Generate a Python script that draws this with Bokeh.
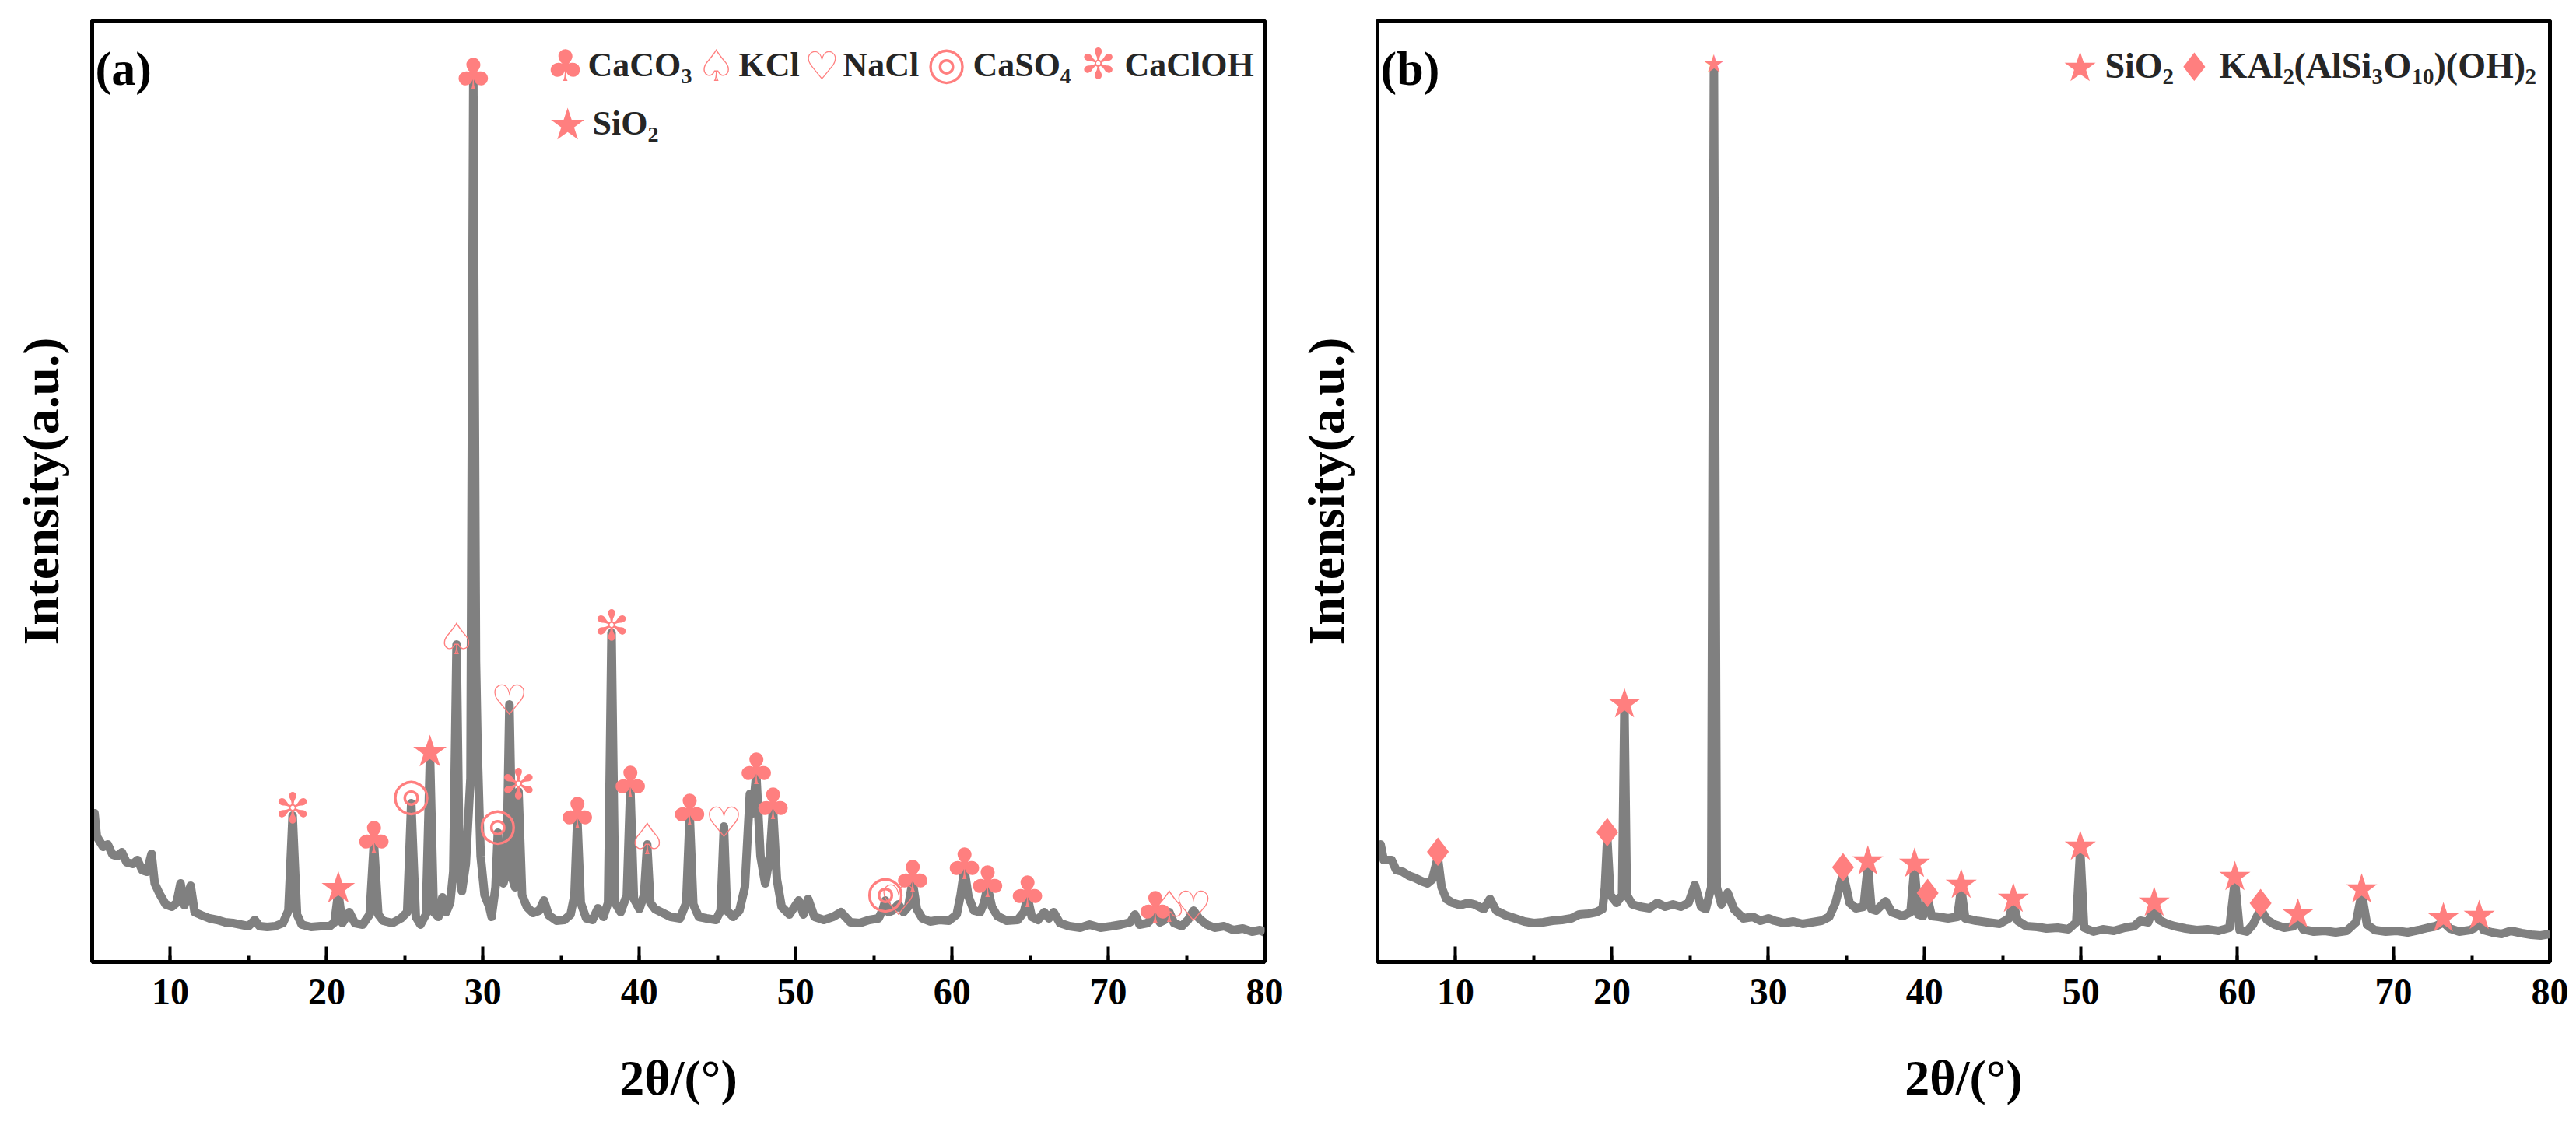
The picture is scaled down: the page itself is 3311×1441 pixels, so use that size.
from bokeh.plotting import figure
from bokeh.models import Range1d, SingleIntervalTicker, FixedTicker, Label
from bokeh.layouts import row
from bokeh.embed import file_html
from bokeh.resources import INLINE
from bokeh.core.properties import value

# ---------------- data ----------------
# panel (a): (2theta, intensity a.u.)
pattern_a = [
    (5.0, 176), (5.15, 191), (5.3, 161), (5.7, 148), (6.0, 151), (6.3, 138), (6.6, 136), (6.9, 141),
    (7.2, 128), (7.6, 126), (7.9, 131), (8.2, 118), (8.5, 116), (8.8, 139), (9.0, 101), (9.3, 88),
    (9.7, 74), (10.1, 71), (10.4, 76), (10.65, 101), (10.9, 73), (11.3, 98), (11.55, 64), (12.0, 60),
    (12.5, 56), (13.0, 54), (13.5, 51), (14.0, 50), (14.5, 48), (15.0, 46), (15.4, 54), (15.7, 46),
    (16.2, 45), (16.7, 46), (17.2, 50), (17.55, 66), (17.82, 188), (18.1, 61), (18.4, 48), (19.0, 45),
    (19.6, 46), (20.2, 46), (20.5, 51), (20.74, 89), (21.0, 50), (21.45, 64), (21.8, 50), (22.3, 48),
    (22.75, 61), (23.02, 153), (23.3, 61), (23.6, 53), (24.2, 50), (24.75, 56), (25.15, 64), (25.41, 204),
    (25.7, 58), (26.0, 48), (26.35, 61), (26.61, 264), (26.85, 64), (27.15, 58), (27.4, 83), (27.65, 64),
    (27.9, 76), (28.1, 116), (28.31, 408), (28.5, 116), (28.65, 91), (28.9, 126), (29.2, 236), (29.38, 1134),
    (29.55, 386), (29.65, 276), (29.85, 136), (30.1, 86), (30.4, 71), (30.55, 58), (30.8, 96), (30.95, 166),
    (31.15, 111), (31.3, 101), (31.5, 116), (31.69, 331), (31.9, 106), (32.05, 96), (32.27, 219), (32.5, 86),
    (32.8, 71), (33.2, 63), (33.6, 66), (33.9, 79), (34.2, 60), (34.7, 53), (35.2, 54), (35.6, 61),
    (35.85, 86), (36.03, 184), (36.25, 76), (36.6, 56), (37.0, 54), (37.35, 69), (37.7, 58), (38.0, 76),
    (38.22, 423), (38.45, 76), (38.8, 64), (39.2, 86), (39.42, 224), (39.65, 81), (40.0, 68), (40.3, 86),
    (40.5, 151), (40.7, 76), (41.0, 68), (41.4, 64), (42.0, 58), (42.6, 56), (43.0, 76), (43.22, 188),
    (43.45, 74), (43.8, 58), (44.3, 56), (44.9, 54), (45.2, 66), (45.41, 174), (45.6, 66), (46.0, 58),
    (46.4, 66), (46.75, 96), (47.07, 216), (47.25, 191), (47.48, 241), (47.75, 136), (48.05, 101), (48.35, 136),
    (48.55, 196), (48.8, 106), (49.1, 71), (49.6, 61), (50.2, 79), (50.5, 61), (50.8, 81), (51.2, 58),
    (51.8, 54), (52.4, 58), (52.9, 64), (53.5, 51), (54.1, 50), (54.7, 54), (55.3, 56), (55.55, 66),
    (55.74, 79), (55.95, 64), (56.2, 66), (56.57, 74), (56.9, 64), (57.2, 71), (57.48, 103), (57.75, 68),
    (58.1, 56), (58.6, 52), (59.2, 54), (59.8, 53), (60.3, 61), (60.55, 86), (60.79, 119), (61.05, 84),
    (61.4, 66), (61.8, 64), (62.05, 76), (62.27, 96), (62.55, 71), (62.9, 59), (63.5, 53), (64.2, 54),
    (64.6, 64), (64.83, 83), (65.1, 58), (65.5, 54), (65.9, 64), (66.2, 56), (66.5, 64), (66.9, 50),
    (67.5, 46), (68.2, 44), (68.8, 48), (69.5, 44), (70.2, 46), (70.8, 48), (71.4, 51), (71.7, 61),
    (72.0, 48), (72.5, 50), (72.8, 56), (73.0, 63), (73.3, 51), (73.6, 54), (73.9, 64), (74.2, 50),
    (74.7, 46), (75.1, 54), (75.45, 66), (75.8, 56), (76.3, 48), (76.8, 44), (77.4, 46), (78.0, 41),
    (78.6, 43), (79.2, 39), (79.7, 41), (80.0, 38),
]

# panel (b): (2theta, intensity a.u.)
pattern_b = [
    (5.0, 138), (5.2, 151), (5.4, 131), (5.9, 131), (6.2, 118), (6.6, 116), (7.0, 111), (7.4, 108),
    (7.8, 104), (8.2, 101), (8.5, 106), (8.86, 134), (9.1, 96), (9.4, 81), (9.8, 76), (10.3, 73),
    (10.8, 76), (11.2, 74), (11.8, 68), (12.2, 81), (12.6, 66), (13.2, 60), (13.8, 56), (14.4, 52),
    (15.0, 50), (15.6, 51), (16.2, 53), (16.8, 54), (17.4, 56), (17.9, 61), (18.5, 62), (19.0, 64),
    (19.4, 68), (19.55, 96), (19.7, 159), (19.9, 86), (20.3, 76), (20.65, 86), (20.8, 326), (20.95, 86),
    (21.3, 74), (21.8, 71), (22.4, 69), (22.9, 76), (23.4, 71), (23.9, 74), (24.4, 71), (24.9, 76),
    (25.3, 99), (25.7, 71), (26.0, 68), (26.35, 96), (26.52, 1148), (26.7, 96), (27.0, 74), (27.4, 89),
    (27.8, 68), (28.4, 56), (29.0, 58), (29.5, 53), (30.0, 56), (30.4, 53), (31.0, 50), (31.6, 52),
    (32.2, 49), (32.8, 51), (33.4, 53), (33.9, 58), (34.3, 76), (34.78, 114), (35.2, 76), (35.6, 69),
    (36.1, 71), (36.37, 124), (36.6, 68), (36.9, 66), (37.5, 78), (37.9, 64), (38.6, 59), (39.1, 64),
    (39.35, 121), (39.6, 61), (39.9, 59), (40.2, 81), (40.45, 59), (40.9, 58), (41.5, 56), (42.1, 58),
    (42.34, 94), (42.6, 56), (43.3, 53), (44.0, 51), (44.8, 49), (45.4, 56), (45.67, 76), (45.95, 53),
    (46.5, 46), (47.2, 45), (47.8, 43), (48.5, 44), (49.2, 42), (49.7, 51), (49.95, 143), (50.2, 44),
    (50.8, 39), (51.4, 42), (52.1, 40), (52.8, 44), (53.4, 46), (53.8, 53), (54.3, 51), (54.68, 71),
    (55.0, 54), (55.5, 49), (56.0, 46), (56.7, 43), (57.4, 41), (58.1, 42), (58.8, 40), (59.5, 44),
    (59.85, 104), (60.15, 41), (60.6, 39), (61.0, 48), (61.5, 68), (61.9, 54), (62.4, 48), (63.0, 44),
    (63.6, 46), (63.88, 56), (64.2, 42), (64.9, 39), (65.6, 40), (66.3, 38), (67.0, 40), (67.6, 51),
    (67.96, 88), (68.3, 48), (68.8, 41), (69.5, 39), (70.2, 40), (70.9, 38), (71.6, 41), (72.2, 44),
    (72.7, 46), (73.18, 51), (73.6, 43), (74.2, 39), (74.9, 41), (75.2, 44), (75.47, 54), (75.75, 41),
    (76.3, 38), (76.9, 36), (77.5, 40), (78.2, 37), (78.8, 35), (79.4, 34), (80.0, 36),
]

two_theta_a = [p[0] for p in pattern_a]
intensity_a = [p[1] for p in pattern_a]
two_theta_b = [p[0] for p in pattern_b]
intensity_b = [p[1] for p in pattern_b]

# identified peaks (2theta)
caco3_peaks_a = [23.02, 29.38, 36.03, 39.42, 43.22, 47.48, 48.55, 57.48, 60.79, 62.27, 64.83, 73.0]
kcl_peaks_a = [28.31, 40.5, 73.9]
nacl_peaks_a = [31.69, 45.41, 56.57, 75.45]
caso4_peaks_a = [25.41, 30.95, 55.74]
cacloh_peaks_a = [17.82, 32.27, 38.22]
sio2_peaks_a = [20.74, 26.61]

sio2_peaks_b = [20.8, 26.52, 36.37, 39.35, 42.34, 45.67, 49.95, 54.68, 59.85, 63.88, 67.96, 73.18, 75.47]
mica_peaks_b = [8.86, 19.7, 34.78, 40.2, 61.5]

x_axis_label = "2θ/(°)"
y_axis_label = "Intensity(a.u.)"

# ---------------- styling ----------------
PINK = "#FF7F7F"
LINE_GRAY = "#808080"
TXT = "#262626"
SERIF = "Liberation Serif"
SYM = "DejaVu Sans"
X0, X1 = 5, 80
Y0, Y1 = 0, 1210
FRAME_W = 1507
DEG_PX = FRAME_W / (X1 - X0)
FRAME_BOTTOM = 1236   # page px
HEIGHT = 1436


def make_fig(width, left, right):
    p = figure(width=width, height=HEIGHT, x_range=Range1d(X0, X1), y_range=Range1d(Y0, Y1),
               output_backend="svg", toolbar_location=None,
               min_border_left=left, min_border_right=right, min_border_top=26,
               min_border_bottom=HEIGHT - FRAME_BOTTOM)
    p.xgrid.visible = False
    p.ygrid.visible = False
    p.background_fill_color = "white"
    p.border_fill_color = "white"
    p.outline_line_color = "black"
    p.outline_line_width = 5
    ax = p.xaxis[0]
    ax.ticker = SingleIntervalTicker(interval=10, num_minor_ticks=2)
    ax.axis_line_width = 5
    ax.major_tick_in = 20
    ax.major_tick_out = 0
    ax.minor_tick_in = 8
    ax.minor_tick_out = 0
    ax.major_tick_line_width = 4
    ax.minor_tick_line_width = 4
    ax.major_tick_line_color = "black"
    ax.minor_tick_line_color = "black"
    ax.major_label_text_font = SERIF
    ax.major_label_text_font_style = "bold"
    ax.major_label_text_font_size = "48px"
    ax.major_label_text_color = "black"
    ax.major_label_standoff = 22
    ax.axis_label = x_axis_label
    ax.axis_label_text_font = SERIF
    ax.axis_label_text_font_style = "bold"
    ax.axis_label_text_font_size = "64px"
    ax.axis_label_text_color = "black"
    ax.axis_label_standoff = 56
    ay = p.yaxis[0]
    ay.ticker = FixedTicker(ticks=[])
    ay.axis_line_width = 5
    ay.major_tick_line_color = None
    ay.minor_tick_line_color = None
    ay.axis_label = y_axis_label
    ay.axis_label_text_font = SERIF
    ay.axis_label_text_font_style = "bold"
    ay.axis_label_text_font_size = "66px"
    ay.axis_label_text_color = "black"
    ay.axis_label_standoff = 30
    return p


def add_text(p, frame_left, px, py, text, size, color, font=SERIF, style="bold", align="left"):
    # px, py: page pixel positions
    x = X0 + (px - frame_left) / DEG_PX
    y = FRAME_BOTTOM - py
    p.add_layout(Label(x=x, y=y, text=text, text_font=font, text_font_style=style,
                       text_font_size=size, text_color=color, text_align=align,
                       text_baseline="alphabetic"))


def add_markers(p, peaks, pattern, glyph, size, sizes=None, lift=-7):
    lookup = dict(pattern)
    ys = [lookup[x] for x in peaks]
    kw = dict(text_font=value(SYM), text_color=PINK, text_align="center",
              text_baseline="alphabetic", y_offset=lift)
    if sizes is None:
        p.text(x=peaks, y=ys, text=[glyph] * len(peaks), text_font_size=value(size), **kw)
    else:
        p.text(x=peaks, y=ys, text=[glyph] * len(peaks), text_font_size=sizes, **kw)


# ---------------- panel (a) ----------------
A_LEFT = 118
pa = make_fig(1653, A_LEFT, 28)
pa.line(two_theta_a, intensity_a, line_color=LINE_GRAY, line_width=11, line_join="round")
MA = "56px"
HEART = "54px"
RING = "58px"
AST = "54px"
add_markers(pa, caco3_peaks_a, pattern_a, "♣", MA)
add_markers(pa, kcl_peaks_a, pattern_a, "♤", MA)
add_markers(pa, nacl_peaks_a, pattern_a, "♡", HEART, lift=-5)
add_markers(pa, caso4_peaks_a, pattern_a, "◎", RING, lift=-12)
add_markers(pa, cacloh_peaks_a, pattern_a, "✼", AST, lift=-9)
add_markers(pa, sio2_peaks_a, pattern_a, "★", MA)

add_text(pa, A_LEFT, 122, 87, "(a)", "62px", "black")
# legend row 1
add_text(pa, A_LEFT, 726, 84, "♣", MA, PINK, SYM, "normal", "center")
add_text(pa, A_LEFT, 755, 83, "CaCO", "44px", TXT)
add_text(pa, A_LEFT, 875, 97, "3", "28px", TXT)
add_text(pa, A_LEFT, 920, 84, "♤", MA, PINK, SYM, "normal", "center")
add_text(pa, A_LEFT, 949, 83, "KCl", "44px", TXT)
add_text(pa, A_LEFT, 1056, 84, "♡", "50px", PINK, SYM, "normal", "center")
add_text(pa, A_LEFT, 1083, 83, "NaCl", "44px", TXT)
add_text(pa, A_LEFT, 1216, 80, "◎", RING, PINK, SYM, "normal", "center")
add_text(pa, A_LEFT, 1250, 83, "CaSO", "44px", TXT)
add_text(pa, A_LEFT, 1362, 97, "4", "28px", TXT)
add_text(pa, A_LEFT, 1411, 82, "✼", AST, PINK, SYM, "normal", "center")
add_text(pa, A_LEFT, 1445, 83, "CaClOH", "44px", TXT)
# legend row 2
add_text(pa, A_LEFT, 729, 159, "★", MA, PINK, SYM, "normal", "center")
add_text(pa, A_LEFT, 761, 158, "SiO", "44px", TXT)
add_text(pa, A_LEFT, 832, 172, "2", "28px", TXT)

# ---------------- panel (b) ----------------
B_LEFT = 1770
pb = make_fig(1655, B_LEFT - 1653, 31)
pb.line(two_theta_b, intensity_b, line_color=LINE_GRAY, line_width=11, line_join="round")
main_b = max(pattern_b, key=lambda t: t[1])[0]
add_markers(pb, sio2_peaks_b, pattern_b, "★", None,
            sizes=["32px" if x == main_b else "52px" for x in sio2_peaks_b])
add_markers(pb, mica_peaks_b, pattern_b, "♦", "50px")

add_text(pb, B_LEFT, 1774, 87, "(b)", "62px", "black")
add_text(pb, B_LEFT, 2673, 85, "★", "52px", PINK, SYM, "normal", "center")
add_text(pb, B_LEFT, 2705, 84, "SiO", "46px", TXT)
add_text(pb, B_LEFT, 2779, 98, "2", "29px", TXT)
add_text(pb, B_LEFT, 2820, 86, "♦", "50px", PINK, SYM, "normal", "center")
add_text(pb, B_LEFT, 2852, 84, "KAl", "46px", TXT)
add_text(pb, B_LEFT, 2934, 98, "2", "29px", TXT)
add_text(pb, B_LEFT, 2948, 84, "(AlSi", "46px", TXT)
add_text(pb, B_LEFT, 3048, 98, "3", "29px", TXT)
add_text(pb, B_LEFT, 3063, 84, "O", "46px", TXT)
add_text(pb, B_LEFT, 3099, 98, "10", "29px", TXT)
add_text(pb, B_LEFT, 3128, 84, ")(OH)", "46px", TXT)
add_text(pb, B_LEFT, 3245, 98, "2", "29px", TXT)

layout = row(pa, pb)
open("out.html", "w").write(file_html(layout, INLINE))
